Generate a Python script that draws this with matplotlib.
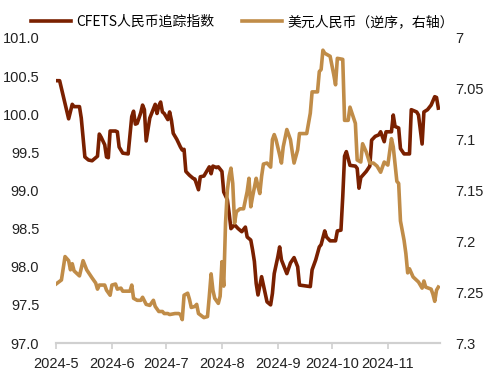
import matplotlib.pyplot as plt
import matplotlib.dates as mdates
import pandas as pd

plt.rcParams['font.family'] = ['Liberation Sans', 'Noto Sans CJK SC']

# CFETS RMB index (left axis)
cfets_dates = [
    "05-01", "05-03", "05-08", "05-10", "05-11", "05-14", "05-15", "05-17", "05-19", "05-21",
    "05-24", "05-25", "05-26", "05-28", "05-29", "05-30", "05-31", "06-03", "06-04", "06-05",
    "06-07", "06-10", "06-12", "06-13", "06-14", "06-15", "06-17", "06-18", "06-19", "06-20",
    "06-22", "06-23", "06-25", "06-26", "06-27", "06-28", "06-29", "06-30", "07-02", "07-03",
    "07-04", "07-05", "07-07", "07-09", "07-10", "07-11", "07-12", "07-14", "07-16", "07-17",
    "07-19", "07-20", "07-22", "07-23", "07-25", "07-26", "07-27", "07-29", "07-30", "07-31",
    "08-01", "08-02", "08-04", "08-05", "08-06", "08-08", "08-10", "08-12", "08-14", "08-15",
    "08-17", "08-18", "08-19", "08-20", "08-21", "08-23", "08-25", "08-26", "08-28", "08-29",
    "08-30", "09-01", "09-02", "09-03", "09-06", "09-08", "09-10", "09-12", "09-13", "09-16",
    "09-19", "09-20", "09-22", "09-24", "09-25", "09-27", "09-28", "09-30", "10-03", "10-04",
    "10-06", "10-07", "10-08", "10-09", "10-11", "10-14", "10-15", "10-16", "10-17", "10-20",
    "10-22", "10-23", "10-25", "10-27", "10-28", "10-30", "10-31", "11-03", "11-04", "11-05",
    "11-07", "11-08", "11-10", "11-13", "11-14", "11-17", "11-18", "11-20", "11-21", "11-23",
    "11-25", "11-27", "11-28", "11-29",
]
cfets = [
    100.44, 100.44, 99.94, 100.13, 100.10, 100.10, 99.95, 99.44, 99.40, 99.39,
    99.45, 99.74, 99.70, 99.60, 99.44, 99.43, 99.78, 99.78, 99.77, 99.57,
    99.49, 99.48, 99.97, 100.04, 99.87, 99.88, 100.02, 100.12, 100.06, 99.65,
    99.95, 100.01, 100.13, 100.01, 100.11, 100.16, 100.03, 100.01, 99.93, 100.03,
    99.92, 99.75, 99.67, 99.57, 99.53, 99.54, 99.25, 99.20, 99.16, 99.15,
    99.01, 99.18, 99.19, 99.23, 99.31, 99.22, 99.32, 99.30, 99.31, 99.28,
    99.25, 98.98, 98.88, 98.70, 98.50, 98.55, 98.50, 98.46, 98.52, 98.39,
    98.35, 98.22, 98.07, 97.78, 97.63, 97.87, 97.65, 97.54, 97.50, 97.65,
    97.91, 98.13, 98.26, 98.09, 97.91, 98.05, 98.12, 98.00, 97.76, 97.75,
    97.74, 97.96, 98.09, 98.26, 98.29, 98.47, 98.39, 98.34, 98.34, 98.47,
    98.48, 98.92, 99.45, 99.51, 99.33, 99.32, 99.29, 99.03, 99.17, 99.25,
    99.32, 99.66, 99.71, 99.73, 99.77, 99.64, 99.77, 99.77, 99.99, 99.84,
    99.82, 99.55, 99.48, 99.48, 100.06, 100.03, 99.99, 99.61, 100.03, 100.06,
    100.12, 100.23, 100.22, 100.08,
]

# USD/CNY (right axis, inverted)
usd_dates = [
    "05-01", "05-04", "05-06", "05-08", "05-09", "05-10", "05-11", "05-14", "05-16", "05-18",
    "05-21", "05-23", "05-24", "05-25", "05-28", "05-29", "05-31", "06-01", "06-03", "06-04",
    "06-06", "06-07", "06-11", "06-12", "06-13", "06-15", "06-17", "06-18", "06-20", "06-22",
    "06-24", "06-25", "06-27", "06-29", "06-30", "07-02", "07-03", "07-06", "07-08", "07-09",
    "07-10", "07-11", "07-13", "07-14", "07-15", "07-17", "07-18", "07-19", "07-22", "07-24",
    "07-25", "07-26", "07-27", "07-28", "07-30", "07-31", "08-01", "08-02", "08-03", "08-04",
    "08-05", "08-06", "08-07", "08-08", "08-09", "08-11", "08-13", "08-15", "08-16", "08-17",
    "08-18", "08-20", "08-21", "08-22", "08-23", "08-24", "08-26", "08-28", "08-29", "08-30",
    "08-31", "09-02", "09-03", "09-04", "09-06", "09-08", "09-09", "09-10", "09-12", "09-13",
    "09-17", "09-19", "09-20", "09-23", "09-24", "09-25", "09-26", "09-27", "09-30", "10-02",
    "10-03", "10-04", "10-07", "10-08", "10-10", "10-11", "10-14", "10-15", "10-17", "10-18",
    "10-20", "10-22", "10-24", "10-26", "10-28", "10-30", "11-01", "11-02", "11-03", "11-04",
    "11-06", "11-07", "11-08", "11-10", "11-11", "11-12", "11-13", "11-15", "11-18", "11-20",
    "11-21", "11-22", "11-25", "11-26", "11-27", "11-28", "11-29",
]
usdcny = [
    7.242, 7.238, 7.215, 7.219, 7.228, 7.222, 7.229, 7.234, 7.219, 7.228,
    7.236, 7.241, 7.247, 7.243, 7.243, 7.248, 7.253, 7.243, 7.242, 7.247,
    7.246, 7.249, 7.249, 7.243, 7.256, 7.258, 7.258, 7.255, 7.262, 7.263,
    7.258, 7.264, 7.269, 7.269, 7.271, 7.271, 7.272, 7.271, 7.271, 7.272,
    7.277, 7.253, 7.251, 7.257, 7.265, 7.264, 7.262, 7.271, 7.275, 7.274,
    7.254, 7.232, 7.248, 7.256, 7.261, 7.254, 7.220, 7.244, 7.182, 7.150,
    7.136, 7.128, 7.143, 7.182, 7.171, 7.168, 7.168, 7.151, 7.138, 7.166,
    7.156, 7.138, 7.146, 7.153, 7.136, 7.124, 7.123, 7.127, 7.100, 7.095,
    7.100, 7.115, 7.123, 7.107, 7.090, 7.100, 7.112, 7.123, 7.110, 7.094,
    7.094, 7.074, 7.053, 7.053, 7.033, 7.031, 7.012, 7.015, 7.018, 7.036,
    7.046, 7.020, 7.021, 7.081, 7.081, 7.068, 7.084, 7.120, 7.122, 7.104,
    7.112, 7.123, 7.123, 7.126, 7.132, 7.122, 7.125, 7.112, 7.099, 7.107,
    7.141, 7.143, 7.180, 7.199, 7.212, 7.231, 7.227, 7.235, 7.240, 7.246,
    7.239, 7.245, 7.247, 7.252, 7.259, 7.248, 7.245,
]

left_ticks = [97.0, 97.5, 98.0, 98.5, 99.0, 99.5, 100.0, 100.5, 101.0]
right_ticks = [7.0, 7.05, 7.1, 7.15, 7.2, 7.25, 7.3]
right_labels = ["7", "7.05", "7.1", "7.15", "7.2", "7.25", "7.3"]

x1 = pd.to_datetime(["2024-" + d for d in cfets_dates])
x2 = pd.to_datetime(["2024-" + d for d in usd_dates])

dark = "#7A2000"
gold = "#C08C48"

fig = plt.figure(figsize=(4.85, 3.83), dpi=100)
ax = fig.add_axes([0.1155, 0.1044, 0.792, 0.7964])
ax2 = ax.twinx()

l1, = ax.plot(x1, cfets, color=dark, lw=2.6, label="CFETS人民币追踪指数")
l2, = ax2.plot(x2, usdcny, color=gold, lw=2.6, label="美元人民币（逆序，右轴）")

ax.set_ylim(97, 101)
ax.set_yticks(left_ticks)
ax.set_yticklabels([f"{v:.1f}" for v in left_ticks])
ax2.set_ylim(7.3, 7.0)
ax2.set_yticks(right_ticks)
ax2.set_yticklabels(right_labels)

ax.set_xlim(pd.Timestamp("2024-05-01"), pd.Timestamp("2024-11-30"))
ax.xaxis.set_major_locator(mdates.MonthLocator())
ax.xaxis.set_major_formatter(mdates.DateFormatter("%Y-%-m"))

for a in (ax, ax2):
    for s in ("top", "left", "right"):
        a.spines[s].set_visible(False)
    a.spines["bottom"].set_color("#D0D0D0")
    a.spines["bottom"].set_linewidth(1.5)

ax.tick_params(axis="y", length=0, pad=12, labelsize=10.5, colors="#222222")
ax2.tick_params(axis="y", length=0, pad=11, labelsize=10.5, colors="#222222")
ax.tick_params(axis="x", length=4, width=1.2, color="#D0D0D0", pad=6, labelsize=10.5, labelcolor="#222222")

fig.legend(handles=[l1, l2], loc="center", bbox_to_anchor=(0.5, 0.943), ncol=2, frameon=False,
           handlelength=2.9, handletextpad=0.35, columnspacing=2.0,
           prop={"family": ["Noto Sans CJK SC"], "size": 10})

fig.savefig("out.png", dpi=100)
